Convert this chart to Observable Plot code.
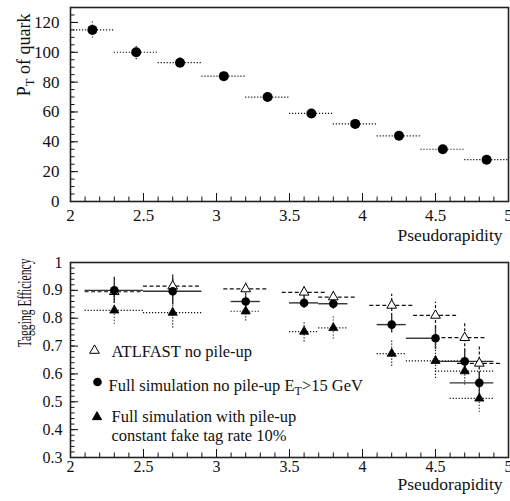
<!DOCTYPE html>
<html><head><meta charset="utf-8">
<script src="https://cdn.jsdelivr.net/npm/d3@7"></script>
<script src="https://cdn.jsdelivr.net/npm/@observablehq/plot@0.6"></script>
<style>body{margin:0;background:#fff} svg{display:block} svg text{font-family:"Liberation Serif","DejaVu Serif",serif !important}</style>
</head><body><div id="chart"></div>
<script>
// ---------- Top panel: pT of quark vs pseudorapidity ----------
const topEta   = [2.15, 2.45, 2.75, 3.05, 3.35, 3.65, 3.95, 4.25, 4.55, 4.85];
const topEtaLo = [2.0, 2.3, 2.6, 2.9, 3.2, 3.5, 3.8, 4.1, 4.4, 4.7];
const topEtaHi = [2.3, 2.6, 2.9, 3.2, 3.5, 3.8, 4.1, 4.4, 4.7, 5.0];
const topPt    = [115, 100, 93, 84, 70, 59, 52, 44, 35, 28];
const topPtErr = [5.5, 5, 3.3, 2, 1.5, 1.5, 1.5, 1.5, 1.5, 1.5];
const topYTicks = [0, 20, 40, 60, 80, 100, 120];
const xTicks = [2, 2.5, 3, 3.5, 4, 4.5, 5];
const xTickLabels = ["2", "2.5", "3", "3.5", "4", "4.5", "5"];

// ---------- Bottom panel: tagging efficiency ----------
const effEta = [2.3, 2.7, 3.2, 3.6, 3.8, 4.2, 4.5, 4.7, 4.8];
// ATLFAST no pile-up (open triangles, dashed)
const atlEff = [0.895, 0.915, 0.905, 0.893, 0.876, 0.846, 0.81, 0.73, 0.638];
const atlErr = [0.02, 0.04, 0.025, 0.02, 0.02, 0.04, 0.047, 0.05, 0.06];
const atlLo  = [2.1, 2.5, 3.05, 3.45, 3.7, 4.05, 4.35, 4.5, 4.65];
const atlHi  = [2.5, 2.9, 3.35, 3.75, 3.95, 4.35, 4.65, 4.85, 4.95];
// Full simulation no pile-up (filled circles, solid)
const fullEff = [0.90, 0.897, 0.86, 0.855, 0.852, 0.777, 0.728, 0.645, 0.568];
const fullErr = [0.047, 0.05, 0.02, 0.02, 0.02, 0.03, 0.04, 0.04, 0.04];
const fullLo  = [2.1, 2.5, 3.1, 3.5, 3.7, 4.1, 4.3, 4.5, 4.6];
const fullHi  = [2.5, 2.9, 3.3, 3.7, 3.9, 4.3, 4.5, 4.9, 4.9];
// Full simulation with pile-up (filled triangles, dotted)
const pileEff = [0.828, 0.82, 0.825, 0.752, 0.765, 0.673, 0.647, 0.61, 0.512];
const pileErr = [0.05, 0.055, 0.035, 0.037, 0.04, 0.045, 0.063, 0.05, 0.05];
const pileLo  = [2.1, 2.5, 3.1, 3.5, 3.7, 4.1, 4.3, 4.5, 4.6];
const pileHi  = [2.5, 2.9, 3.3, 3.7, 3.9, 4.3, 4.7, 4.9, 4.9];
const effYTicks = [0.3, 0.4, 0.5, 0.6, 0.7, 0.8, 0.9, 1];
const effYTickLabels = ["0.3", "0.4", "0.5", "0.6", "0.7", "0.8", "0.9", "1"];

const legendLabels = ["ATLFAST no pile-up", "Full simulation no pile-up ET>15 GeV", "Full simulation with pile-up", "constant fake tag rate 10%"];

const FONT = "'Liberation Serif', 'DejaVu Serif', serif";
const INK = "#111";

const topRows = topEta.map((x, i) => ({x, y: topPt[i], e: topPtErr[i], lo: topEtaLo[i], hi: topEtaHi[i]}));
const mk = (ys, es, los, his) => effEta.map((x, i) => ({x, y: ys[i], e: es[i], lo: los[i], hi: his[i]}));
const atl = mk(atlEff, atlErr, atlLo, atlHi);
const full = mk(fullEff, fullErr, fullLo, fullHi);
const pile = mk(pileEff, pileErr, pileLo, pileHi);

function tickMarks(W, H, xMinor, xMajor, yMinor, yMajor) {
  return [
    Plot.tickX(xMinor, {x: d => d, insetTop: H - 4.5, stroke: INK, strokeWidth: 1}),
    Plot.tickX(xMajor, {x: d => d, insetTop: H - 8, stroke: INK, strokeWidth: 1}),
    Plot.tickY(yMinor, {y: d => d, insetRight: W - 4.5, stroke: INK, strokeWidth: 1}),
    Plot.tickY(yMajor, {y: d => d, insetRight: W - 8, stroke: INK, strokeWidth: 1})
  ];
}

// ---- top plot ----
const T = {width: 510, height: 250, mt: 7, mb: 49, ml: 70, mr: 2};
const TW = T.width - T.ml - T.mr, TH = T.height - T.mt - T.mb;
const topPlot = Plot.plot({
  width: T.width, height: T.height,
  marginTop: T.mt, marginBottom: T.mb, marginLeft: T.ml, marginRight: T.mr,
  style: {fontFamily: FONT, fontSize: "17px", background: "white", color: INK},
  x: {domain: [2, 5], ticks: xTicks, tickFormat: d => xTickLabels[xTicks.indexOf(d)], tickSize: 0, tickPadding: 7, label: null},
  y: {domain: [0, 130], ticks: topYTicks, tickFormat: d => String(d), tickSize: 0, tickPadding: 11, label: null},
  marks: [
    ...tickMarks(TW, TH, d3.range(20, 51).map(d => d / 10), xTicks, d3.range(0, 131, 5), topYTicks),
    Plot.ruleY(topRows, {y: "y", x1: "lo", x2: "hi", stroke: INK, strokeWidth: 1.2, strokeDasharray: "1.2,1.8"}),
    Plot.ruleX(topRows, {x: "x", y1: d => d.y - d.e, y2: d => d.y + d.e, stroke: INK, strokeWidth: 1.2, strokeDasharray: "1.2,1.8"}),
    Plot.dot(topRows, {x: "x", y: "y", r: 5, fill: "black", stroke: "none"}),
    Plot.frame({stroke: "#222", strokeWidth: 1.6}),
    Plot.text(["Pseudorapidity"], {frameAnchor: "bottom-right", dx: -6, dy: 34, textAnchor: "end", lineAnchor: "middle", fontSize: 17.5, fill: INK}),
    Plot.text(["PT of quark"], {frameAnchor: "top-left", dx: -46, dy: 6, rotate: -90, textAnchor: "end", lineAnchor: "middle", fontSize: 18, fill: INK})
  ]
});

// ---- bottom plot ----
const B = {width: 510, height: 251, mt: 12, mb: 44, ml: 70, mr: 2};
const BW = B.width - B.ml - B.mr, BH = B.height - B.mt - B.mb;
const legendSym = [
  {dx: 24, dy: 88, symbol: "triangle", fill: "white", stroke: "black", r: 3.6},
  {dx: 27, dy: 119.5, symbol: "circle", fill: "black", stroke: "none", r: 4.3},
  {dx: 26.5, dy: 154.5, symbol: "triangle", fill: "black", stroke: "black", r: 3.4}
];
const legendText = [
  {dx: 41, dy: 89, t: legendLabels[0]},
  {dx: 38, dy: 123, t: legendLabels[1]},
  {dx: 41, dy: 154, t: legendLabels[2]},
  {dx: 41, dy: 173, t: legendLabels[3]}
];
const botPlot = Plot.plot({
  width: B.width, height: B.height,
  marginTop: B.mt, marginBottom: B.mb, marginLeft: B.ml, marginRight: B.mr,
  style: {fontFamily: FONT, fontSize: "16px", background: "white", color: INK},
  x: {domain: [2, 5], ticks: xTicks, tickFormat: d => xTickLabels[xTicks.indexOf(d)], tickSize: 0, tickPadding: 3, label: null},
  y: {domain: [0.3, 1], ticks: effYTicks, tickFormat: d => effYTickLabels[effYTicks.indexOf(d)], tickSize: 0, tickPadding: 8, label: null},
  marks: [
    ...tickMarks(BW, BH, d3.range(20, 51).map(d => d / 10), xTicks, d3.range(15, 51).map(d => d / 50), effYTicks),
    Plot.ruleY(atl, {y: "y", x1: "lo", x2: "hi", stroke: INK, strokeWidth: 1.2, strokeDasharray: "4,2.5"}),
    Plot.ruleX(atl, {x: "x", y1: d => d.y - d.e, y2: d => d.y + d.e, stroke: INK, strokeWidth: 1.2, strokeDasharray: "3,2"}),
    Plot.ruleY(pile, {y: "y", x1: "lo", x2: "hi", stroke: INK, strokeWidth: 1.2, strokeDasharray: "1.2,1.8"}),
    Plot.ruleX(pile, {x: "x", y1: d => d.y - d.e, y2: d => d.y + d.e, stroke: INK, strokeWidth: 1.2, strokeDasharray: "1.2,1.8"}),
    Plot.ruleY(full, {y: "y", x1: "lo", x2: "hi", stroke: "#333", strokeWidth: 1.4}),
    Plot.ruleX(full, {x: "x", y1: d => d.y - d.e, y2: d => d.y + d.e, stroke: "#333", strokeWidth: 1.4}),
    Plot.dot(pile, {x: "x", y: "y", symbol: "triangle", r: 3.4, fill: "black", stroke: "black", strokeWidth: 0.8}),
    Plot.dot(atl, {x: "x", y: "y", symbol: "triangle", r: 3.6, fill: "white", stroke: "black", strokeWidth: 1}),
    Plot.dot(full, {x: "x", y: "y", r: 4.3, fill: "black", stroke: "none"}),
    ...legendSym.map(s => Plot.dot([s], {frameAnchor: "top-left", dx: s.dx, dy: s.dy, symbol: s.symbol, r: s.r, fill: s.fill, stroke: s.stroke, strokeWidth: 1})),
    ...legendText.map(s => Plot.text([s.t], {frameAnchor: "top-left", dx: s.dx, dy: s.dy, textAnchor: "start", lineAnchor: "middle", fontSize: 16.5, fill: INK})),
    Plot.frame({stroke: "#222", strokeWidth: 1.6}),
    Plot.text(["Pseudorapidity"], {frameAnchor: "bottom-right", dx: -6, dy: 27, textAnchor: "end", lineAnchor: "middle", fontSize: 17.5, fill: INK}),
    Plot.text(["Tagging Efficiency"], {frameAnchor: "top-left", dx: -45, dy: -4, rotate: -90, textAnchor: "end", lineAnchor: "middle", fontSize: 18, fill: INK})
  ]
});

const chart = document.getElementById("chart");
chart.appendChild(topPlot);
chart.appendChild(botPlot);

function subscript(svg, full, before, sub, after, subSize, shift) {
  d3.select(svg).selectAll("text").filter(function () { return this.textContent === full; })
    .each(function () {
      const t = d3.select(this);
      t.text(null);
      t.append("tspan").text(before);
      t.append("tspan").attr("dy", shift).attr("font-size", subSize).text(sub);
      t.append("tspan").attr("dy", -shift).text(after);
    });
}
subscript(topPlot, "PT of quark", "P", "T", " of quark", 12.5, 4);
subscript(botPlot, legendLabels[1], "Full simulation no pile-up E", "T", ">15 GeV", 12, 4);
// condense the rotated label along its baseline to match the reference length
d3.select(botPlot).selectAll("text").filter(function () { return this.textContent === "Tagging Efficiency"; })
  .each(function () {
    const len = this.getComputedTextLength();
    const s = len > 0 ? Math.min(1, 89 / len) : 0.65;
    const tr = this.getAttribute("transform") || "";
    this.setAttribute("transform", tr + ` scale(${s},1)`);
  });
</script>
</body></html>
